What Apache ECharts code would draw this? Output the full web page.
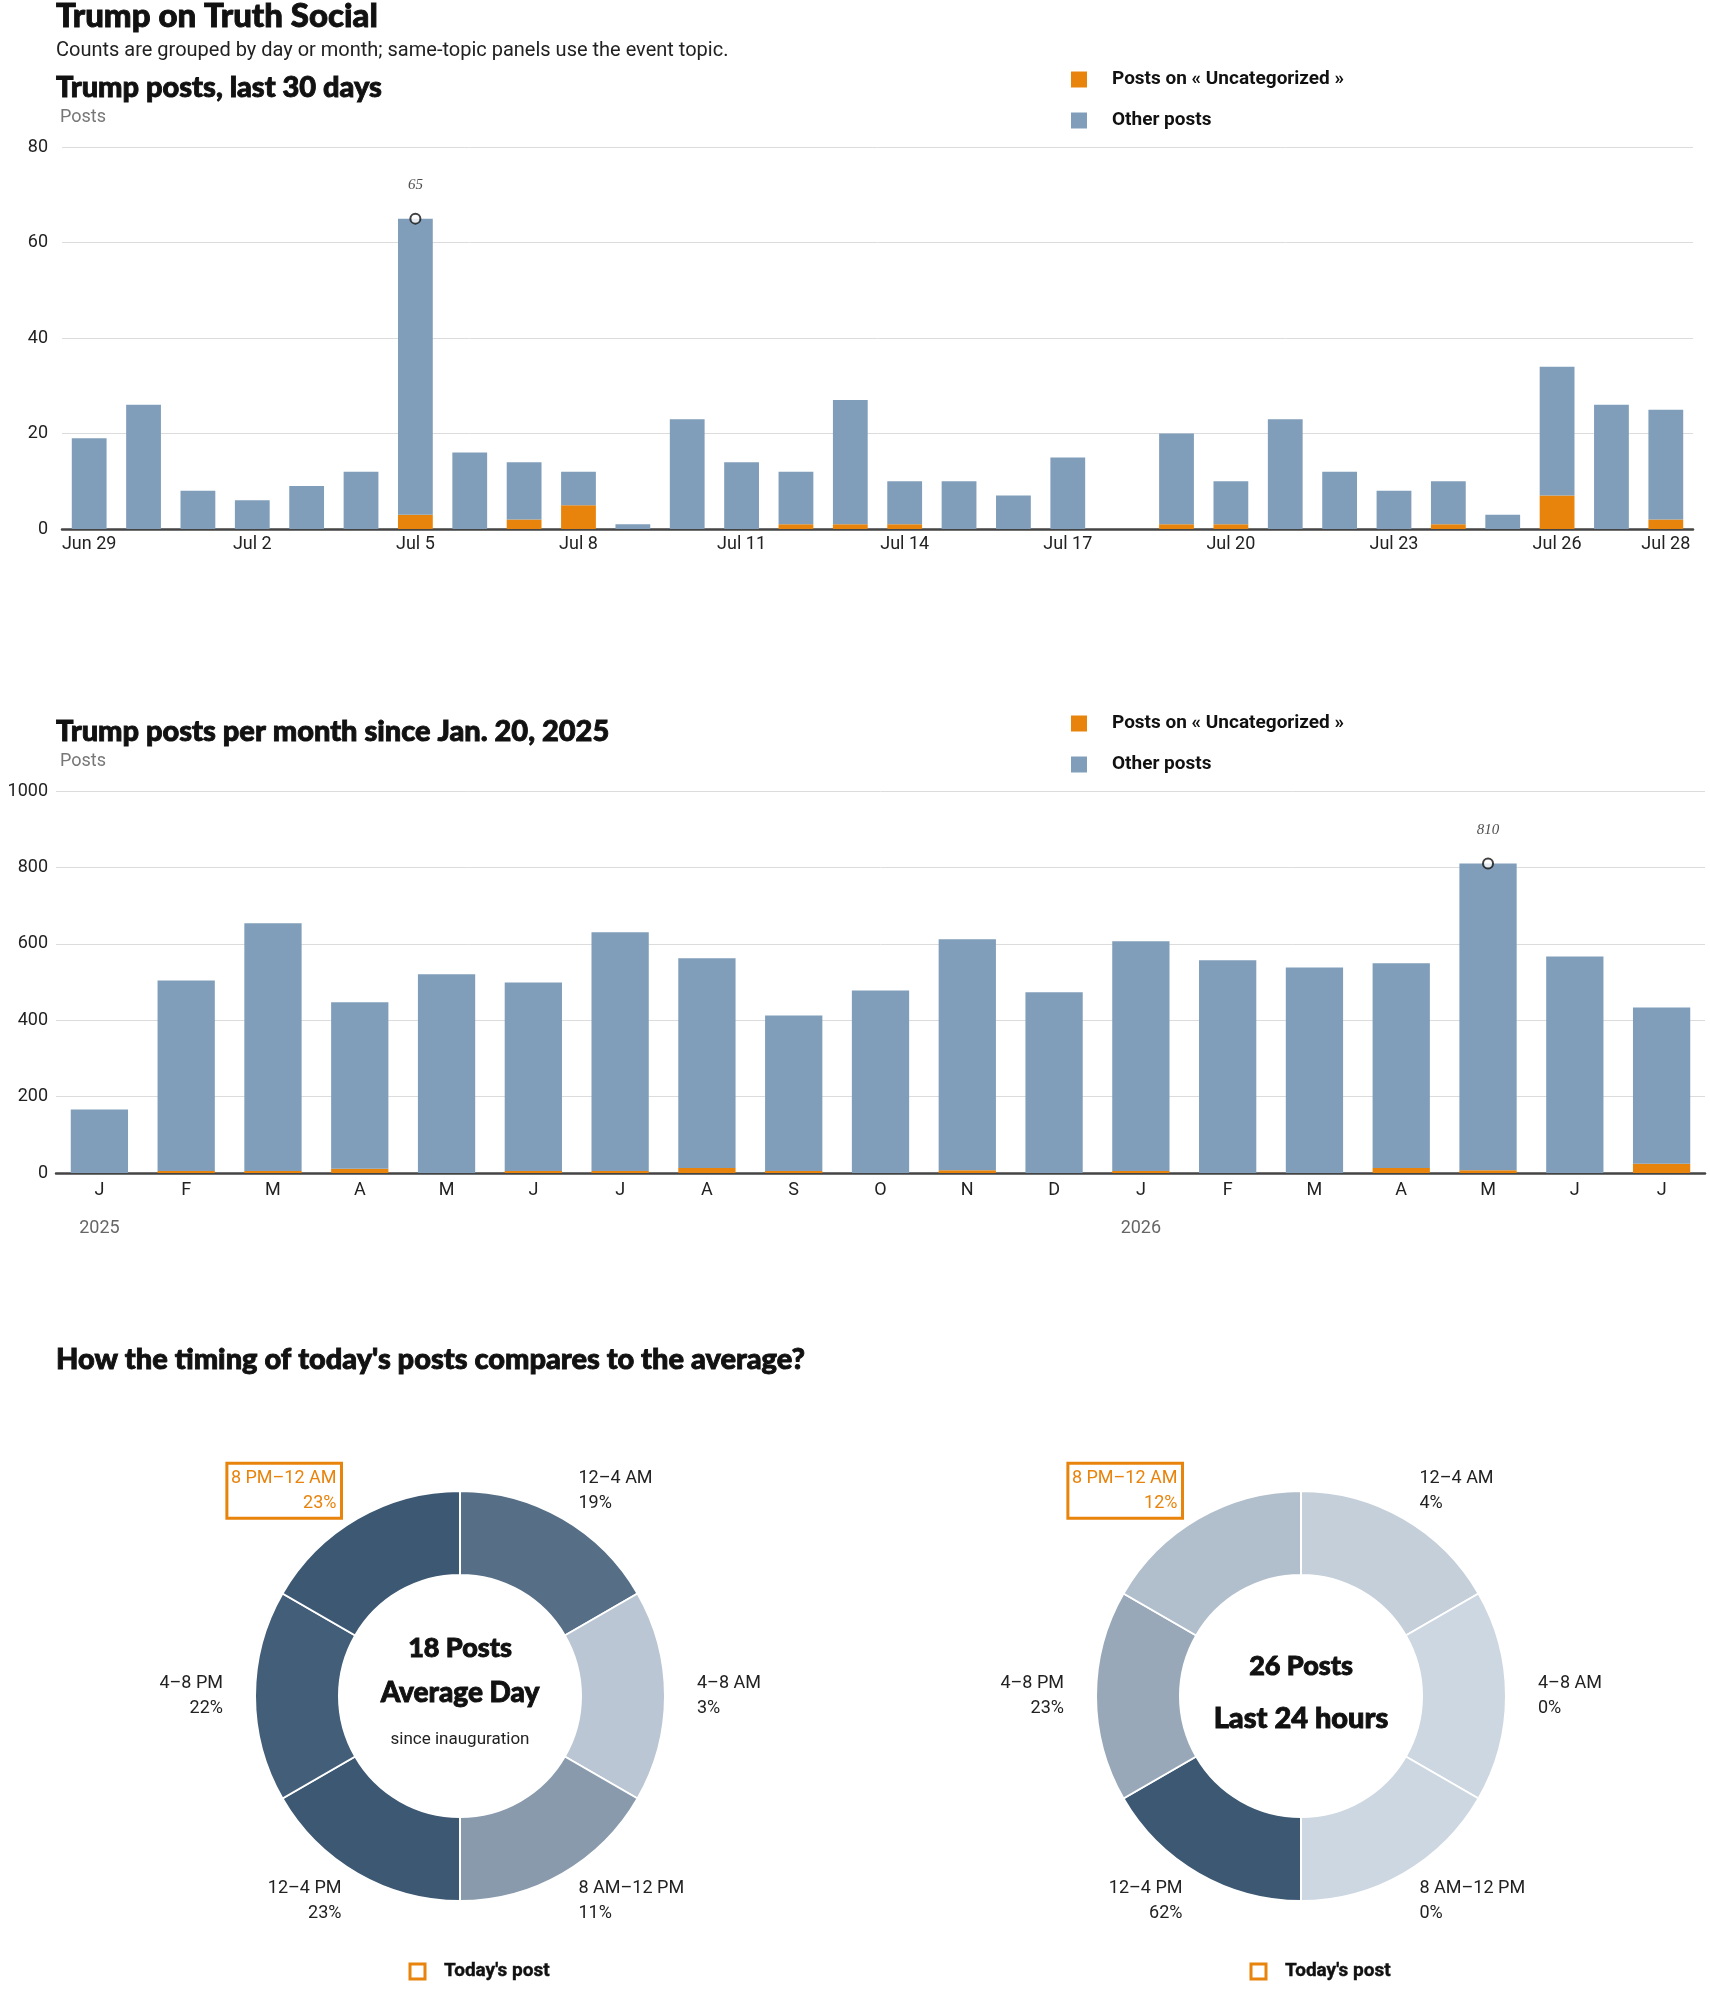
<!DOCTYPE html>
<html>
<head>
<meta charset="utf-8">
<title>Trump on Truth Social</title>
<script src="https://cdn.jsdelivr.net/npm/echarts@6/dist/echarts.min.js"></script>
<style>
  html, body { margin: 0; padding: 0; background: #fff; }
  #main { width: 1710px; height: 1993px; }
</style>
</head>
<body>
<div id="main"></div>
<script>
// 最近30天
var days = ['Jun 29', 'Jun 30', 'Jul 1', 'Jul 2', 'Jul 3', 'Jul 4', 'Jul 5', 'Jul 6', 'Jul 7', 'Jul 8',
  'Jul 9', 'Jul 10', 'Jul 11', 'Jul 12', 'Jul 13', 'Jul 14', 'Jul 15', 'Jul 16', 'Jul 17', 'Jul 18',
  'Jul 19', 'Jul 20', 'Jul 21', 'Jul 22', 'Jul 23', 'Jul 24', 'Jul 25', 'Jul 26', 'Jul 27', 'Jul 28'];
var dayTotal = [19, 26, 8, 6, 9, 12, 65, 16, 14, 12, 1, 23, 14, 12, 27, 10, 10, 7, 15, 0, 20, 10, 23, 12, 8, 10, 3, 34, 26, 25];
var dayTopic = [0, 0, 0, 0, 0, 0, 3, 0, 2, 5, 0, 0, 0, 1, 1, 1, 0, 0, 0, 0, 1, 1, 0, 0, 0, 1, 0, 7, 0, 2];

// 每月
var months = ['J', 'F', 'M', 'A', 'M', 'J', 'J', 'A', 'S', 'O', 'N', 'D', 'J', 'F', 'M', 'A', 'M', 'J', 'J'];
var monthYear = ['2025', '', '', '', '', '', '', '', '', '', '', '', '2026', '', '', '', '', '', ''];
var monthTotal = [166, 504, 654, 447, 520, 499, 630, 562, 412, 478, 612, 473, 607, 557, 538, 549, 810, 567, 433];
var monthTopic = [0, 5, 5, 11, 0, 5, 5, 13, 5, 0, 7, 0, 5, 0, 0, 13, 7, 0, 24];

// 时段
var slots = ['12–4 AM', '4–8 AM', '8 AM–12 PM', '12–4 PM', '4–8 PM', '8 PM–12 AM'];
var slotHours = [4, 4, 4, 4, 4, 4];
var avgPct = [19, 3, 11, 23, 22, 23];
var todayPct = [4, 0, 0, 62, 23, 12];
var todaySlot = '8 PM–12 AM';
var avgDayPosts = 18;
var last24Posts = 26;

var orange = '#e8830c',
  blue = '#809eba',
  nameTopic = 'Posts on « Uncategorized »',
  nameOther = 'Other posts';

var fontHead = 'Lato, "Liberation Sans", sans-serif';
var fontBody = 'Roboto, "Liberation Sans", sans-serif';

function minus(a, b) {
  return a.map(function(v, i) { return v - b[i]; });
}
function peakOf(arr) {
  var idx = 0;
  arr.forEach(function(v, i) { if(v > arr[idx]) idx = i; });
  return [idx, arr[idx]];
}
// 浅色到深色
function shade(p, max) {
  var lo = [205, 215, 225], hi = [61, 88, 115], t = max ? p / max : 0;
  var c = lo.map(function(v, i) { return Math.round(v + (hi[i] - v) * t); });
  return 'rgb(' + c.join(',') + ')';
}

function barAxes(gridIndex, cats, max, interval, labelOpt, yMargin) {
  return {
    x: {
      type: 'category',
      gridIndex: gridIndex,
      data: cats,
      axisTick: { show: false },
      axisLine: { lineStyle: { color: '#444', width: 2.5 } },
      axisLabel: Object.assign({ color: '#222', fontSize: 18, fontFamily: fontBody, margin: 6 }, labelOpt)
    },
    y: {
      type: 'value',
      gridIndex: gridIndex,
      min: 0,
      max: max,
      interval: interval,
      axisLine: { show: false },
      axisTick: { show: false },
      splitLine: { lineStyle: { color: '#dcdcdc', width: 1 } },
      axisLabel: {
        color: '#222', fontSize: 18, fontFamily: fontBody, margin: yMargin,
        formatter: function(v) { return String(v); }
      }
    }
  };
}

function barSeries(idx, topic, total, gap) {
  var peak = peakOf(total);
  return [{
    name: nameTopic,
    type: 'bar',
    xAxisIndex: idx,
    yAxisIndex: idx,
    stack: 's' + idx,
    barCategoryGap: gap,
    itemStyle: { color: orange },
    data: topic
  }, {
    name: nameOther,
    type: 'bar',
    xAxisIndex: idx,
    yAxisIndex: idx,
    stack: 's' + idx,
    barCategoryGap: gap,
    itemStyle: { color: blue },
    data: minus(total, topic)
  }, {
    name: 'peak' + idx,
    type: 'scatter',
    xAxisIndex: idx,
    yAxisIndex: idx,
    symbol: 'circle',
    symbolSize: 10,
    z: 5,
    itemStyle: { color: '#fff', borderColor: '#111', borderWidth: 2 },
    label: {
      show: true,
      position: 'top',
      distance: 20,
      fontFamily: '"Liberation Serif", "DejaVu Serif", serif',
      fontStyle: 'italic',
      fontSize: 15,
      color: '#222',
      formatter: function(p) { return p.value[1]; }
    },
    data: [peak]
  }];
}

function legendAt(top) {
  return {
    orient: 'vertical',
    left: 1066,
    top: top,
    icon: 'rect',
    itemWidth: 16,
    itemHeight: 16,
    itemGap: 22,
    selectedMode: false,
    textStyle: { fontFamily: fontBody, fontWeight: 'bold', fontSize: 19, color: '#111', padding: [0, 0, 0, 20] },
    data: [nameTopic, nameOther]
  };
}

function donut(cx, pcts) {
  var max = Math.max.apply(null, pcts);
  return {
    type: 'pie',
    center: [cx, 1696],
    radius: [121, 205],
    startAngle: 90,
    clockwise: true,
    avoidLabelOverlap: false,
    silent: true,
    itemStyle: { borderColor: '#fff', borderWidth: 2 },
    label: {
      show: true,
      position: 'outside',
      alignTo: 'none',
      distanceToLabelLine: 0,
      fontFamily: fontBody,
      fontSize: 18,
      lineHeight: 25,
      color: '#222',
      formatter: function(p) { return p.name + '\n' + p.data.pct + '%'; }
    },
    labelLine: { show: false, length: 32, length2: 0 },
    data: slots.map(function(s, i) {
      var item = { name: s, value: slotHours[i], pct: pcts[i], itemStyle: { color: shade(pcts[i], max) } };
      if(s === todaySlot) {
        item.label = { color: orange, borderColor: orange, borderWidth: 3, padding: [3, 5, 2, 4] };
      }
      return item;
    })
  };
}

function txt(x, y, text, size, opt) {
  return {
    type: 'text',
    x: x,
    y: y,
    style: Object.assign({
      text: text,
      fontSize: size,
      fontFamily: fontBody,
      fill: '#111',
      verticalAlign: 'middle',
      align: 'left'
    }, opt || {})
  };
}
// 粗标题, 加描边显得更重
function headTxt(x, y, text, size, align) {
  return txt(x, y, text, size, {
    fontFamily: fontHead, fontWeight: 900, stroke: '#111', lineWidth: 0.9, align: align || 'left'
  });
}
function todayLegend(x) {
  return [{
    type: 'rect',
    shape: { x: x, y: 1964, width: 15, height: 15 },
    style: { fill: '#fff', stroke: orange, lineWidth: 3 }
  }, txt(x + 34, 1971, "Today's post", 19, { fontWeight: 'bold', stroke: '#111', lineWidth: 0.4 })];
}

var a1 = barAxes(0, days, 80, 20, {
  interval: function(i) { return i % 3 === 0 || i === days.length - 1; }
}, 14);
var a2 = barAxes(1, months, 1000, 200, {
  interval: 0,
  formatter: function(v, i) {
    return monthYear[i] ? v + '\n{yr|' + monthYear[i] + '}' : v;
  },
  lineHeight: 22,
  rich: { yr: { color: '#666', fontSize: 18, fontFamily: fontBody, lineHeight: 54 } }
}, 8);

var chart = echarts.init(document.getElementById('main'));
chart.setOption({
  animation: false,
  legend: [legendAt(65), legendAt(709)],
  grid: [
    { left: 62, right: 17, top: 147, height: 382 },
    { left: 56, right: 5, top: 791, height: 382 }
  ],
  xAxis: [a1.x, a2.x],
  yAxis: [a1.y, a2.y],
  series: barSeries(0, dayTopic, dayTotal, '36%')
    .concat(barSeries(1, monthTopic, monthTotal, '34%'))
    .concat([donut(460, avgPct), donut(1301, todayPct)]),
  graphic: [
    headTxt(56, 16, 'Trump on Truth Social', 33),
    txt(56, 51, 'Counts are grouped by day or month; same-topic panels use the event topic.', 20, { fill: '#222' }),
    headTxt(56, 88, 'Trump posts, last 30 days', 29),
    txt(60, 117, 'Posts', 18, { fill: '#777' }),
    headTxt(56, 732, 'Trump posts per month since Jan. 20, 2025', 29),
    txt(60, 761, 'Posts', 18, { fill: '#777' }),
    headTxt(56, 1360, "How the timing of today's posts compares to the average?", 29),
    headTxt(460, 1648, avgDayPosts + ' Posts', 27, 'center'),
    headTxt(460, 1693, 'Average Day', 28, 'center'),
    txt(460, 1740, 'since inauguration', 17, { align: 'center', fill: '#222' }),
    headTxt(1301, 1666, last24Posts + ' Posts', 27, 'center'),
    headTxt(1301, 1719, 'Last 24 hours', 29, 'center')
  ].concat(todayLegend(410)).concat(todayLegend(1251))
});
</script>
</body>
</html>
